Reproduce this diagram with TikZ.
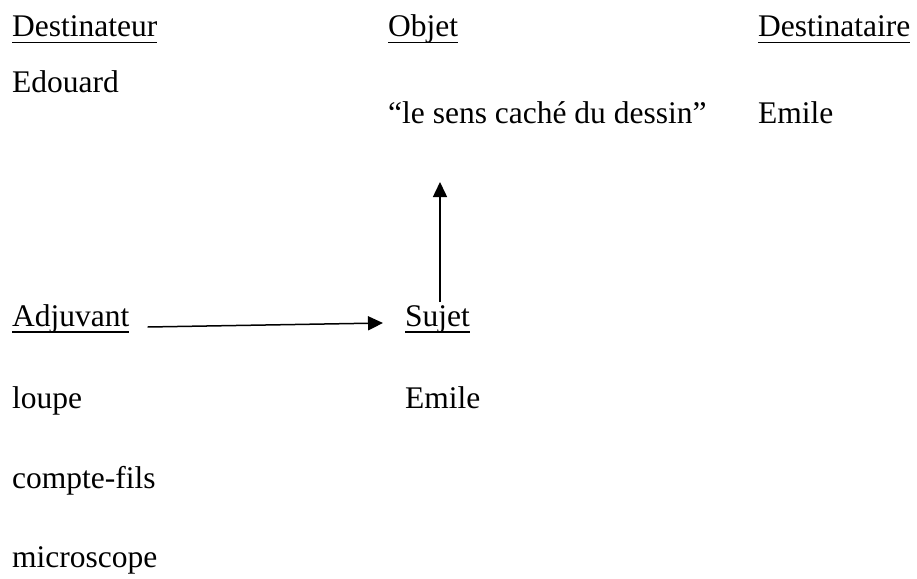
\documentclass[tikz,border=0pt]{standalone}
\usepackage{fontspec}
\setmainfont{Liberation Serif}
\usetikzlibrary{arrows.meta}
\newcommand\myul[1]{\setbox0\hbox{#1}\rlap{\rule[-6.5pt]{\wd0}{1.8pt}}\box0}
\begin{document}
\begin{tikzpicture}[x=1pt,y=-1pt,
  lbl/.style={anchor=base west,inner sep=0pt,font=\fontsize{31.5}{38}\selectfont},
  arr/.style={line width=1.5pt,-{Triangle[length=15pt,width=14pt]}}]
\useasboundingbox (0,0) rectangle (917,578);
\node[lbl] (dtr) at (12,37) {\myul{Destinateur}};
\node[lbl] (obj) at (388,37) {\myul{Objet}};
\node[lbl] (dta) at (758,37) {\myul{Destinataire}};
\node[lbl] (edo) at (12,92) {Edouard};
\node[lbl] (sens) at (388,123) {“le sens caché du dessin”};
\node[lbl] (em1) at (758,123) {Emile};
\node[lbl] (adj) at (12,326) {\myul{Adjuvant}};
\node[lbl] (suj) at (405,326) {\myul{Sujet}};
\node[lbl] (em2) at (405,408) {Emile};
\node[lbl] (lou) at (12,408) {loupe};
\node[lbl] (cpt) at (12,488) {compte-fils};
\node[lbl] (mic) at (12,567) {microscope};
\draw[arr] ([xshift=18pt,yshift=-1pt]adj.base east) -- ([xshift=-22pt,yshift=3pt]suj.base west);
\draw[arr] ([xshift=35pt,yshift=24pt]suj.base west) -- ([xshift=52pt,yshift=-59pt]sens.base west);
\end{tikzpicture}
\end{document}
